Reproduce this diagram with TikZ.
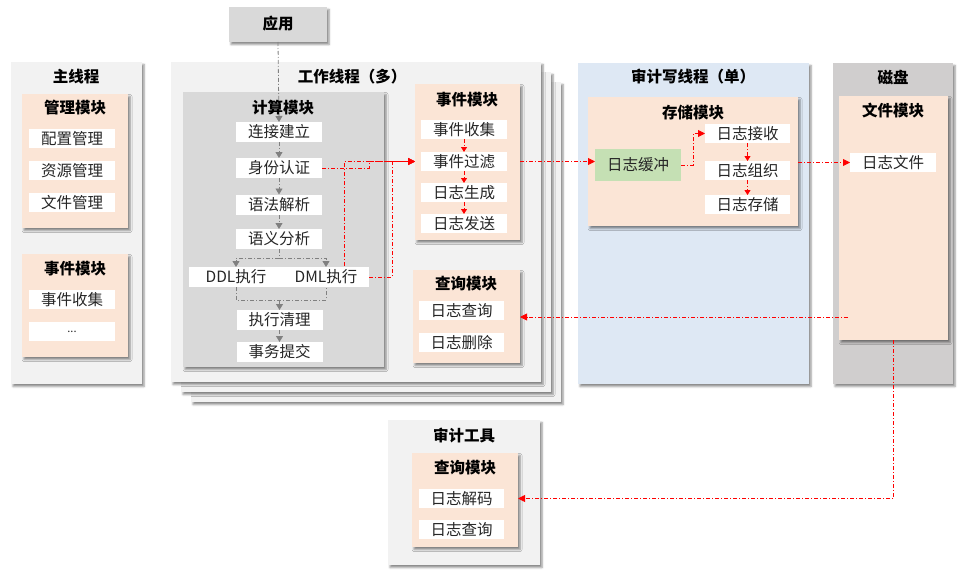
\documentclass[tikz,border=0pt]{standalone}
\usepackage{fontspec}
\setmainfont{Noto Sans CJK SC}
\usetikzlibrary{shadows.blur,arrows.meta,calc}
\definecolor{panelgray}{HTML}{F2F2F2}
\definecolor{calcgray}{HTML}{D9D9D9}
\definecolor{peach}{HTML}{FBE5D6}
\definecolor{auditblue}{HTML}{DEE8F4}
\definecolor{diskgray}{HTML}{D0CECE}
\definecolor{buffgreen}{HTML}{C5E0B4}
\definecolor{arrgray}{HTML}{808080}
\definecolor{itemtext}{HTML}{262626}
\newcommand\itemfnt{\fontsize{15.5}{17}\selectfont}
\newcommand\ttlfnt{\fontsize{15.5}{17}\selectfont\bfseries}
\pgfdeclarelayer{back}
\pgfdeclarelayer{conn}
\pgfsetlayers{back,conn,main}
\begin{document}
\begin{tikzpicture}[x=1pt,y=-1pt,
  panel/.style={fill=panelgray, draw=none, inner sep=0pt, outer sep=0pt, anchor=north west,
    blur shadow={shadow xshift=2pt, shadow yshift=-2.5pt, shadow blur radius=2pt, shadow opacity=45}},
  modbox/.style={panel, fill=peach},
  item/.style={fill=white, inner sep=0pt, outer sep=0pt, minimum width=86pt, minimum height=19pt, text=itemtext, font=\itemfnt},
  ttl/.style={inner sep=0pt, font=\ttlfnt, text=black},
  redarr/.style={draw=red, line width=0.9pt, dash pattern=on 4pt off 2pt on 1pt off 2pt,
    -{Triangle[length=7pt,width=7pt]}},
  redsmall/.style={redarr, -{Triangle[length=5pt,width=6pt]}},
  redline/.style={redarr, -},
  grayarr/.style={draw=arrgray, line width=0.8pt, dash pattern=on 4pt off 2pt on 1pt off 2pt,
    -{Triangle[length=6pt,width=7pt]}},
  grayline/.style={grayarr, -},
]
\useasboundingbox (0,0) rectangle (968,575);

\begin{pgfonlayer}{back}
% application
\node[panel, fill=calcgray, minimum width=98pt, minimum height=35pt] (app) at (229,7) {};
% main thread
\node[panel, minimum width=131pt, minimum height=322pt] (mainthr) at (11,62) {};
\node[modbox, minimum width=106pt, minimum height=134pt] (mgmt) at (22,94) {};
\node[modbox, minimum width=106pt, minimum height=103pt] (evL) at (22,254) {};
% worker thread (stacked)
\node[panel, minimum width=370pt, minimum height=320pt] (wk3) at (191,82) {};
\node[panel, minimum width=370pt, minimum height=320pt] (wk2) at (181,72) {};
\node[panel, minimum width=370pt, minimum height=320pt] (wk1) at (171,62) {};
\node[panel, fill=calcgray, minimum width=201pt, minimum height=275pt] (calc) at (183,92) {};
\node[modbox, minimum width=105pt, minimum height=156pt] (evW) at (415,84) {};
\node[modbox, minimum width=107pt, minimum height=93pt] (qW) at (413,270) {};
% audit write thread
\node[panel, fill=auditblue, minimum width=231pt, minimum height=321pt] (audit) at (578,63) {};
\node[modbox, minimum width=210pt, minimum height=129pt] (store) at (588,97) {};
% disk
\node[panel, fill=diskgray, minimum width=120pt, minimum height=321pt] (disk) at (833,63) {};
\node[modbox, minimum width=109pt, minimum height=244pt] (file) at (839,96) {};
% audit tool
\node[panel, minimum width=152pt, minimum height=145pt] (tool) at (388,420) {};
\node[modbox, minimum width=106pt, minimum height=94pt] (qT) at (412,453) {};
\end{pgfonlayer}

% titles
\node[ttl] (tapp) at (278,24) {应用};
\node[ttl] (tmain) at (76,77) {主线程};
\node[ttl] (tmgmt) at (75,108) {管理模块};
\node[ttl] (tevL) at (75,269) {事件模块};
\node[ttl] (twk) at (352,77) {工作线程（多）};
\node[ttl] (tcalc) at (283,108) {计算模块};
\node[ttl] (tevW) at (467,100) {事件模块};
\node[ttl] (tqW) at (466,284) {查询模块};
\node[ttl] (taudit) at (693,77) {审计写线程（单）};
\node[ttl] (tstore) at (693,113) {存储模块};
\node[ttl] (tdisk) at (893,77) {磁盘};
\node[ttl] (tfile) at (893,111) {文件模块};
\node[ttl] (ttool) at (464,436) {审计工具};
\node[ttl] (tqT) at (465,468) {查询模块};

% main thread items
\node[item] (pz) at (72,138.5) {配置管理};
\node[item] (zy) at (72,170.5) {资源管理};
\node[item] (wj) at (72,202.5) {文件管理};
\node[item] (sjL) at (72,299.5) {事件收集};
\node[item, font=\fontsize{11}{12}\selectfont] (dots) at (72,331.5) {...};

% compute module items
\node[item, minimum height=20pt] (lj) at (279,132) {连接建立};
\node[item, minimum height=20pt] (sf) at (279,168) {身份认证};
\node[item, minimum height=20pt] (yf) at (279,204.5) {语法解析};
\node[item, minimum height=20pt] (yy) at (279,239) {语义分析};
\node[item, minimum height=20pt, minimum width=94pt] (ddl) at (236,277) {DDL执行};
\node[item, minimum height=20pt] (dml) at (326,277) {DML执行};
\node[item, minimum height=20pt] (qc) at (279.5,320) {执行清理};
\node[item, minimum height=20pt] (sw) at (279.5,352) {事务提交};

% worker event module items
\node[item] (sj) at (464,129.5) {事件收集};
\node[item] (gl) at (464,161.5) {事件过滤};
\node[item] (sc) at (464,192.5) {日志生成};
\node[item] (fs) at (464,223.5) {日志发送};
% worker query module items
\node[item, minimum width=85pt] (cxW) at (461.5,310.5) {日志查询};
\node[item, minimum width=85pt] (scW) at (461.5,342.5) {日志删除};

% storage module items
\node[item, fill=buffgreen, minimum height=32pt] (hc) at (638,165) {日志缓冲};
\node[item, minimum width=85pt] (js) at (747.5,133.5) {日志接收};
\node[item, minimum width=85pt] (zz) at (747.5,170.5) {日志组织};
\node[item, minimum width=85pt] (cc) at (747.5,204.5) {日志存储};

% file module items
\node[item] (rf) at (893,162.5) {日志文件};
\coordinate (fq) at (848,317);

% audit tool items
\node[item, minimum width=85pt] (jm) at (461.5,498.5) {日志解码};
\node[item, minimum width=85pt] (cxT) at (461.5,529.5) {日志查询};

\begin{pgfonlayer}{conn}
% gray flow in compute module
\draw[grayarr] (app.south) -- (lj.north);
\draw[grayarr] (lj.south) -- (sf.north);
\draw[grayarr] (sf.south) -- (yf.north);
\draw[grayarr] (yf.south) -- (yy.north);
\draw[grayline] (yy.south) -- ++(0,9) coordinate (split);
\draw[grayarr] (split) -| (ddl.north);
\draw[grayarr] (split) -| (dml.north);
\draw[grayline] (ddl.south) -- ++(0,13) coordinate (mergeL) -| (dml.south);
\draw[grayarr] (mergeL -| qc.north) -- (qc.north);
\draw[grayarr] (qc.south) -- (sw.north);

% red flows
\draw[redarr, shorten >=6pt] (sf.east) -- ++(47,0) |- (gl.west);
\draw[redarr, shorten >=6pt] (ddl.east) -- ++(61,0) |- (gl.west);
\draw[redarr, shorten >=6pt] (dml.east) -- ++(23,0) |- (gl.west);
\draw[redsmall] (sj.south) -- (gl.north);
\draw[redsmall] (gl.south) -- (sc.north);
\draw[redsmall] (sc.south) -- (fs.north);
\draw[redarr] (gl.east -| evW.east) -- (gl.east -| hc.west);
\draw[redarr] (hc.east) -- ++(12,0) |- (js.west);
\draw[redsmall] (js.south) -- (zz.north);
\draw[redsmall] (zz.south) -- (cc.north);
\draw[redarr] (rf.west -| store.east) -- (rf.west);
\draw[redarr] (fq) -- (fq -| qW.east);
\draw[redarr] (file.south) |- (jm.east -| qT.east);
\end{pgfonlayer}
\end{tikzpicture}
\end{document}
